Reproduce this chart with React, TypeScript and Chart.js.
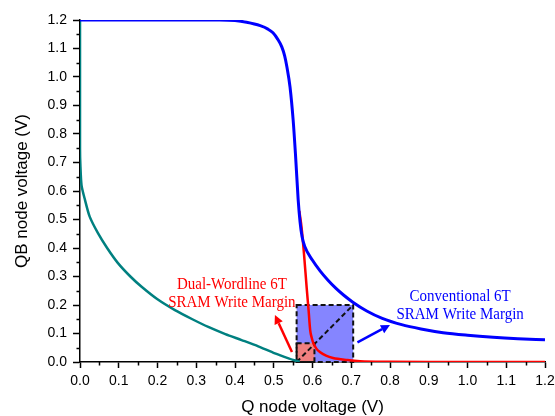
import React, { useEffect, useRef } from "react";
import { Chart, registerables } from "chart.js";

Chart.register(...registerables);

// Conventional 6T transfer curve (blue)
const convQ = [0, 0.2, 0.36, 0.4, 0.43, 0.465, 0.485, 0.498, 0.51, 0.521, 0.528, 0.534, 0.542, 0.55, 0.556, 0.563, 0.568, 0.573, 0.58, 0.6, 0.62, 0.64, 0.66, 0.68, 0.705, 0.74, 0.78, 0.83, 0.88, 0.937, 1.0, 1.066, 1.13, 1.2];
const convV = [1.2, 1.2, 1.2, 1.198, 1.192, 1.18, 1.168, 1.155, 1.133, 1.105, 1.075, 1.035, 0.965, 0.85, 0.73, 0.57, 0.49, 0.44, 0.405, 0.357, 0.319, 0.287, 0.259, 0.235, 0.209, 0.179, 0.153, 0.131, 0.116, 0.103, 0.094, 0.087, 0.082, 0.078];

// Dual-wordline 6T transfer curve (red)
const dualQ = [0.566, 0.572, 0.578, 0.585, 0.59, 0.594, 0.598, 0.602, 0.61, 0.619, 0.635, 0.653, 0.69, 0.723, 0.8, 0.9, 1.2];
const dualV = [0.53, 0.47, 0.38, 0.26, 0.18, 0.112, 0.085, 0.067, 0.047, 0.035, 0.022, 0.014, 0.007, 0.003, 0.001, 0, 0];

// Mirrored curve (teal)
const tealQ = [0, 0, 0.001, 0.004, 0.013, 0.025, 0.046, 0.07, 0.098, 0.13, 0.159, 0.2, 0.245, 0.29, 0.331, 0.375, 0.417, 0.46, 0.503, 0.54, 0.567];
const tealV = [1.2, 0.75, 0.69, 0.62, 0.568, 0.51, 0.453, 0.4, 0.347, 0.3, 0.264, 0.22, 0.182, 0.15, 0.123, 0.098, 0.077, 0.055, 0.03, 0.012, 0];

// Noise-margin squares [qMin, qMax, vMin, vMax]
const convBox = [0.559, 0.705, 0, 0.2];
const dualBox = [0.559, 0.605, 0, 0.066];

// Arrows [fromQ, fromV, toQ, toV]
const dualArrow = [0.547, 0.035, 0.503, 0.165];
const convArrow = [0.716, 0.069, 0.8, 0.13];

// Annotation text and [Q, V] centers
const dualLabel = ["Dual-Wordline 6T", "SRAM Write Margin"];
const dualLabelPos = [[0.392, 0.27], [0.392, 0.207]];
const convLabel = ["Conventional 6T", "SRAM Write Margin"];
const convLabelPos = [[0.981, 0.228], [0.981, 0.168]];

const xTicks = [0, 0.1, 0.2, 0.3, 0.4, 0.5, 0.6, 0.7, 0.8, 0.9, 1.0, 1.1, 1.2];
const yTicks = [0, 0.1, 0.2, 0.3, 0.4, 0.5, 0.6, 0.7, 0.8, 0.9, 1.0, 1.1, 1.2];

const zip = (q: number[], v: number[]) => q.map((x, i) => ({ x, y: v[i] }));

function arrow(ctx: CanvasRenderingContext2D, x1: number, y1: number, x2: number, y2: number, color: string) {
  const ang = Math.atan2(y2 - y1, x2 - x1);
  const head = 9;
  const hw = 4.5;
  const bx = x2 - head * Math.cos(ang);
  const by = y2 - head * Math.sin(ang);
  ctx.save();
  ctx.strokeStyle = color;
  ctx.fillStyle = color;
  ctx.lineWidth = 2.5;
  ctx.beginPath();
  ctx.moveTo(x1, y1);
  ctx.lineTo(bx, by);
  ctx.stroke();
  ctx.beginPath();
  ctx.moveTo(x2, y2);
  ctx.lineTo(bx + hw * Math.sin(ang), by - hw * Math.cos(ang));
  ctx.lineTo(bx - hw * Math.sin(ang), by + hw * Math.cos(ang));
  ctx.closePath();
  ctx.fill();
  ctx.restore();
}

function stretchedText(ctx: CanvasRenderingContext2D, t: string, x: number, y: number) {
  ctx.save();
  ctx.translate(x, y);
  ctx.scale(1, 1.12);
  ctx.fillText(t, 0, 0);
  ctx.restore();
}

const overlay = {
  id: "overlay",
  beforeDatasetsDraw(chart: any) {
    const { ctx, scales } = chart;
    const x = scales.x, y = scales.y;
    const px = (v: number) => x.getPixelForValue(v);
    const py = (v: number) => y.getPixelForValue(v);
    ctx.save();
    ctx.fillStyle = "#8585FF";
    ctx.fillRect(px(convBox[0]), py(convBox[3]), px(convBox[1]) - px(convBox[0]), py(convBox[2]) - py(convBox[3]));
    ctx.fillStyle = "#F08080";
    ctx.fillRect(px(dualBox[0]), py(dualBox[3]), px(dualBox[1]) - px(dualBox[0]), py(dualBox[2]) - py(dualBox[3]));
    ctx.strokeStyle = "#111";
    ctx.lineWidth = 2;
    ctx.setLineDash([5, 3]);
    for (const b of [convBox, dualBox]) {
      ctx.strokeRect(px(b[0]), py(b[3]), px(b[1]) - px(b[0]), py(b[2]) - py(b[3]));
    }
    ctx.beginPath();
    ctx.moveTo(px(convBox[0]), py(convBox[2]));
    ctx.lineTo(px(convBox[1]), py(convBox[3]));
    ctx.stroke();
    ctx.restore();
  },
  afterDatasetsDraw(chart: any) {
    const { ctx, scales } = chart;
    const x = scales.x, y = scales.y;
    const px = (v: number) => x.getPixelForValue(v);
    const py = (v: number) => y.getPixelForValue(v);
    arrow(ctx, px(dualArrow[0]), py(dualArrow[1]), px(dualArrow[2]), py(dualArrow[3]), "#FF0000");
    arrow(ctx, px(convArrow[0]), py(convArrow[1]), px(convArrow[2]), py(convArrow[3]), "#0000FF");
    ctx.save();
    ctx.font = '15px "Liberation Serif", "Times New Roman", serif';
    ctx.textAlign = "center";
    ctx.textBaseline = "middle";
    ctx.fillStyle = "#FF0000";
    dualLabel.forEach((t, i) => stretchedText(ctx, t, px(dualLabelPos[i][0]), py(dualLabelPos[i][1])));
    ctx.fillStyle = "#0000FF";
    convLabel.forEach((t, i) => stretchedText(ctx, t, px(convLabelPos[i][0]), py(convLabelPos[i][1])));
    ctx.restore();
  },
  afterDraw(chart: any) {
    const { ctx, scales, chartArea } = chart;
    const x = scales.x, y = scales.y;
    ctx.save();
    ctx.strokeStyle = "#000";
    ctx.lineWidth = 1.5;
    ctx.beginPath();
    for (let i = 0; i < xTicks.length - 1; i++) {
      const v = (xTicks[i] + xTicks[i + 1]) / 2;
      const p = Math.round(x.getPixelForValue(v)) + 0.5;
      ctx.moveTo(p, chartArea.bottom);
      ctx.lineTo(p, chartArea.bottom + 3.5);
    }
    for (let i = 0; i < yTicks.length - 1; i++) {
      const v = (yTicks[i] + yTicks[i + 1]) / 2;
      const p = Math.round(y.getPixelForValue(v)) + 0.5;
      ctx.moveTo(chartArea.left, p);
      ctx.lineTo(chartArea.left - 3.5, p);
    }
    ctx.stroke();
    ctx.restore();
  },
};

export default function App() {
  const ref = useRef<HTMLCanvasElement | null>(null);
  useEffect(() => {
    if (!ref.current) return;
    Chart.defaults.font.family = '"Liberation Sans", Arial, sans-serif';
    const chart = new Chart(ref.current, {
      type: "scatter",
      data: {
        datasets: [
          { data: zip(convQ, convV), showLine: true, borderColor: "#0000FF", borderWidth: 3, pointRadius: 0, cubicInterpolationMode: "monotone" },
          { data: zip(dualQ, dualV), showLine: true, borderColor: "#FF0000", borderWidth: 2.5, pointRadius: 0, cubicInterpolationMode: "monotone" },
          { data: zip(tealQ, tealV), showLine: true, borderColor: "#008080", borderWidth: 2.5, pointRadius: 0, tension: 0.25 },
        ],
      },
      options: {
        animation: false,
        responsive: false,
        layout: { padding: { left: 0, top: 20, right: 10, bottom: 0 } },
        plugins: { legend: { display: false }, tooltip: { enabled: false } },
        scales: {
          x: {
            type: "linear",
            min: 0,
            max: 1.2,
            afterBuildTicks: (s: any) => { s.ticks = xTicks.map((v) => ({ value: v })); },
            afterFit: (s: any) => { s.height = 54; s.paddingLeft = 0; s.paddingRight = 0; },
            ticks: { callback: (v: any) => Number(v).toFixed(1), color: "#000", font: { size: 14 }, padding: 5, maxRotation: 0 },
            grid: { drawOnChartArea: false, drawTicks: true, tickLength: 6, tickColor: "#000", tickWidth: 1.5 },
            border: { color: "#000", width: 1.5 },
            title: { display: true, text: "Q node voltage (V)", color: "#000", font: { size: 17, lineHeight: 1 }, padding: { top: 0, bottom: 0 } },
          },
          y: {
            type: "linear",
            min: 0,
            max: 1.2,
            afterBuildTicks: (s: any) => { s.ticks = yTicks.map((v) => ({ value: v })); },
            afterFit: (s: any) => { s.width = 80; s.paddingTop = 0; s.paddingBottom = 0; },
            ticks: { callback: (v: any) => Number(v).toFixed(1), color: "#000", font: { size: 14 }, padding: 6 },
            grid: { drawOnChartArea: false, drawTicks: true, tickLength: 7, tickColor: "#000", tickWidth: 1.5 },
            border: { color: "#000", width: 1.5 },
            title: { display: true, text: "QB node voltage (V)", color: "#000", font: { size: 17 }, padding: { top: 12, bottom: 0 } },
          },
        },
      },
      plugins: [overlay],
    } as any);
    return () => chart.destroy();
  }, []);
  return (
    <div style={{ position: "fixed", left: 0, top: 0, width: 555, height: 416, background: "#fff" }}>
      <canvas ref={ref} width={555} height={416} style={{ display: "block" }} />
    </div>
  );
}
